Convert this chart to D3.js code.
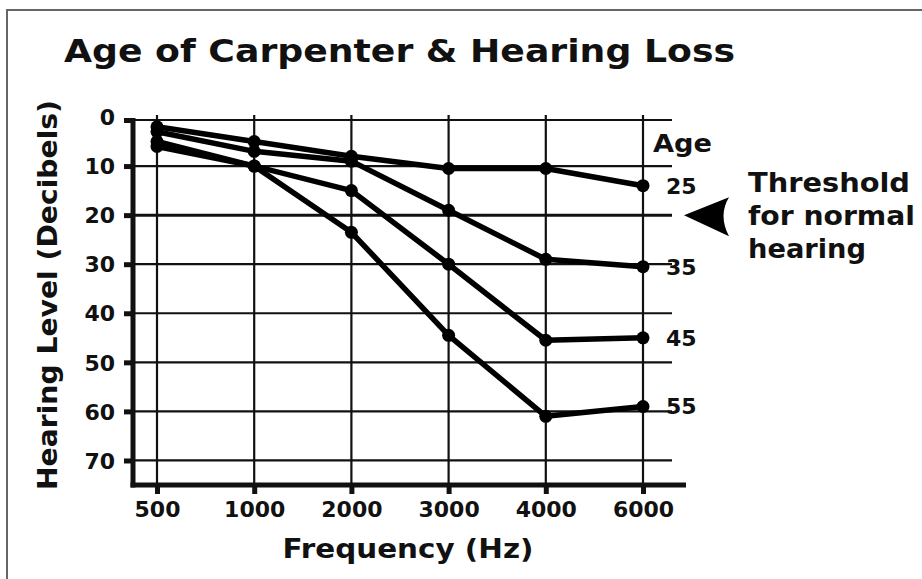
<!DOCTYPE html>
<html>
<head>
<meta charset="utf-8">
<script src="https://cdn.jsdelivr.net/npm/d3@7"></script>
<style>
  html, body { margin: 0; padding: 0; background: #fff; }
  svg { display: block; }
  text { font-family: "DejaVu Sans", Verdana, sans-serif; font-weight: bold; fill: #111; }
</style>
</head>
<body>
<svg id="chart" width="922" height="579"></svg>
<script>
// ---- data ----
const frequencies = ["500", "1000", "2000", "3000", "4000", "6000"];
const yTicks = [0, 10, 20, 30, 40, 50, 60, 70];
const ages = ["25", "35", "45", "55"];
const age25 = [2, 5, 8, 10.5, 10.5, 14];
const age35 = [3, 7, 9, 19, 29, 30.5];
const age45 = [5, 10, 15, 30, 45.5, 45];
const age55 = [6, 10, 23.5, 44.5, 61, 59];
const thresholdValue = 20;
const titleText = "Age of Carpenter & Hearing Loss";
const xTitle = "Frequency (Hz)";
const yTitle = "Hearing Level (Decibels)";
const thresholdLines = ["Threshold", "for normal", "hearing"];

const seriesList = [age25, age35, age45, age55].map((v, i) => ({ age: ages[i], values: v }));

const svg = d3.select("#chart");

// frame
svg.append("path")
  .attr("d", "M7,579 L7,10 L922,10")
  .attr("fill", "none").attr("stroke", "#666").attr("stroke-width", 2);

// title
svg.append("text").attr("x", 64).attr("y", 62)
  .attr("font-size", 32).attr("textLength", 671).attr("lengthAdjust", "spacingAndGlyphs")
  .text(titleText);

const x = d3.scalePoint().domain(frequencies).range([157, 643]);
const y = d3.scaleLinear().domain([0, 75]).range([117, 485]);

const axisX0 = 133, gridRight = 672, bottomY = 485;

// horizontal gridlines
svg.append("g").selectAll("line").data(yTicks).join("line")
  .attr("x1", axisX0).attr("x2", gridRight)
  .attr("y1", d => y(d) + (d === 0 ? 3 : 0)).attr("y2", d => y(d) + (d === 0 ? 3 : 0))
  .attr("stroke", "#111").attr("stroke-width", d => d === thresholdValue ? 3 : 2.2);

// vertical gridlines
svg.append("g").selectAll("line").data(frequencies).join("line")
  .attr("x1", d => x(d)).attr("x2", d => x(d))
  .attr("y1", 115).attr("y2", bottomY)
  .attr("stroke", "#111").attr("stroke-width", 2.2);

// y axis
const yAxis = d3.axisLeft(y).tickValues(yTicks).tickSize(9).tickPadding(9).tickFormat(d3.format("d"));
const gy = svg.append("g").attr("transform", `translate(${axisX0},0)`).call(yAxis);
gy.select(".domain").remove();
gy.selectAll(".tick line").attr("stroke", "#111").attr("stroke-width", 5)
  .attr("transform", (d) => d === 0 ? "translate(0,3)" : null);
gy.selectAll(".tick text").attr("font-size", 22).attr("font-family", "DejaVu Sans").attr("font-weight", "bold").attr("fill", "#111")
  .attr("dy", "0.35em");
svg.append("line").attr("x1", axisX0).attr("x2", axisX0).attr("y1", 118).attr("y2", bottomY + 2.5)
  .attr("stroke", "#111").attr("stroke-width", 5);

// x axis
const xAxis = d3.axisBottom(x).tickSize(9).tickPadding(7);
const gx = svg.append("g").attr("transform", `translate(0,${bottomY})`).call(xAxis);
gx.select(".domain").remove();
gx.selectAll(".tick line").attr("stroke", "#111").attr("stroke-width", 5);
gx.selectAll(".tick text").attr("font-size", 22).attr("font-family", "DejaVu Sans").attr("font-weight", "bold").attr("fill", "#111");
svg.append("line").attr("x1", axisX0 - 2.5).attr("x2", 686).attr("y1", bottomY).attr("y2", bottomY)
  .attr("stroke", "#111").attr("stroke-width", 5);

// axis titles
svg.append("text").attr("x", 408).attr("y", 558).attr("text-anchor", "middle")
  .attr("font-size", 27).attr("textLength", 251).attr("lengthAdjust", "spacingAndGlyphs").text(xTitle);
svg.append("text").attr("transform", "translate(57,295) rotate(-90)").attr("text-anchor", "middle")
  .attr("font-size", 27).attr("textLength", 390).attr("lengthAdjust", "spacingAndGlyphs").text(yTitle);

// series lines
const line = d3.line().x((d, i) => x(frequencies[i])).y(d => y(d));
const gs = svg.append("g");
seriesList.forEach(s => {
  gs.append("path").datum(s.values).attr("d", line)
    .attr("fill", "none").attr("stroke", "#000").attr("stroke-width", 5.5)
    .attr("stroke-linejoin", "round");
  gs.selectAll(null).data(s.values).join("circle")
    .attr("cx", (d, i) => x(frequencies[i])).attr("cy", d => y(d)).attr("r", 6.5).attr("fill", "#000");
});

// age labels
svg.append("text").attr("x", 653).attr("y", 152).attr("font-size", 25)
  .attr("textLength", 59).attr("lengthAdjust", "spacingAndGlyphs").text("Age");
seriesList.forEach(s => {
  svg.append("text").attr("x", 666).attr("y", y(s.values[s.values.length - 1]) + 8)
    .attr("font-size", 22).text(s.age);
});

// threshold arrow
const ty = y(thresholdValue);
svg.append("path")
  .attr("d", `M684,${ty} L729,${ty - 18} Q718,${ty} 729,${ty + 21} Z`)
  .attr("fill", "#000");
const tLens = [162, 167, 118];
svg.append("g").selectAll("text").data(thresholdLines).join("text")
  .attr("x", 748).attr("y", (d, i) => 192 + i * 33).attr("font-size", 27)
  .attr("textLength", (d, i) => tLens[i]).attr("lengthAdjust", "spacingAndGlyphs").text(d => d);
</script>
</body>
</html>
